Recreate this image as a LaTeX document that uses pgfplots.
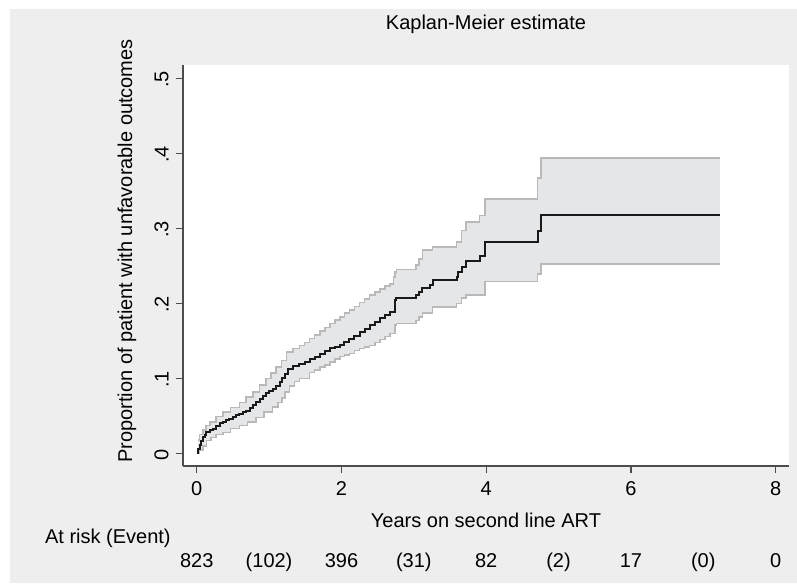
\documentclass[border=0pt]{standalone}
\usepackage{fontspec}
\setmainfont{Liberation Sans}
\usepackage{pgfplots}
\pgfplotsset{compat=1.18}
\usepackage{pgfplotstable}
\definecolor{bgout}{HTML}{EEEEEE}
\definecolor{bandfill}{HTML}{E5E6E8}
\definecolor{bandline}{HTML}{B9B9B9}
\definecolor{kmline}{HTML}{1A1A1A}
\definecolor{axcol}{HTML}{4D4D4D}

\pgfplotstableread{
x y
0 0
0.02 0.006
0.04 0.011
0.06 0.016
0.087 0.022
0.11 0.025
0.134 0.028
0.18 0.031
0.226 0.033
0.27 0.037
0.318 0.040
0.36 0.042
0.41 0.044
0.45 0.046
0.50 0.048
0.55 0.051
0.59 0.053
0.64 0.055
0.686 0.057
0.73 0.060
0.778 0.064
0.82 0.068
0.87 0.073
0.92 0.076
0.963 0.080
1.00 0.083
1.054 0.086
1.10 0.090
1.146 0.095
1.18 0.100
1.215 0.106
1.26 0.113
1.33 0.117
1.42 0.119
1.49 0.122
1.56 0.126
1.63 0.129
1.70 0.133
1.77 0.136
1.84 0.140
1.91 0.142
1.98 0.144
2.04 0.148
2.11 0.153
2.18 0.157
2.25 0.162
2.32 0.166
2.39 0.171
2.46 0.175
2.53 0.180
2.60 0.184
2.67 0.188
2.74 0.204
2.76 0.207
3.03 0.211
3.07 0.215
3.12 0.220
3.23 0.224
3.26 0.231
3.59 0.235
3.61 0.242
3.66 0.249
3.72 0.256
3.91 0.263
3.98 0.282
4.71 0.297
4.76 0.318
7.23 0.318
}\kmtab

\pgfplotstableread{
x y
0.02 0.018
0.04 0.025
0.087 0.031
0.13 0.037
0.18 0.042
0.27 0.049
0.36 0.055
0.47 0.061
0.59 0.068
0.68 0.075
0.78 0.082
0.87 0.091
0.96 0.100
1.03 0.107
1.10 0.115
1.17 0.124
1.24 0.135
1.33 0.140
1.42 0.144
1.49 0.148
1.56 0.153
1.63 0.158
1.70 0.163
1.77 0.168
1.84 0.173
1.91 0.178
1.98 0.182
2.04 0.187
2.11 0.191
2.18 0.196
2.25 0.201
2.32 0.206
2.39 0.211
2.46 0.215
2.53 0.219
2.60 0.223
2.67 0.226
2.72 0.235
2.74 0.242
2.76 0.245
3.03 0.251
3.07 0.259
3.12 0.271
3.26 0.275
3.59 0.282
3.66 0.297
3.72 0.308
3.91 0.317
3.98 0.339
4.71 0.367
4.76 0.394
7.23 0.394
}\uptab

\pgfplotstableread{
x y
0.02 0.000
0.04 0.004
0.087 0.010
0.134 0.017
0.20 0.021
0.27 0.025
0.36 0.028
0.47 0.033
0.59 0.037
0.70 0.042
0.82 0.048
0.93 0.055
1.05 0.062
1.12 0.068
1.18 0.074
1.22 0.082
1.28 0.090
1.35 0.096
1.42 0.100
1.56 0.108
1.63 0.111
1.70 0.115
1.77 0.118
1.84 0.122
1.91 0.126
1.98 0.129
2.04 0.131
2.11 0.133
2.18 0.137
2.25 0.140
2.32 0.142
2.39 0.144
2.46 0.148
2.53 0.152
2.60 0.156
2.67 0.160
2.74 0.171
2.76 0.173
3.03 0.177
3.07 0.182
3.12 0.187
3.26 0.195
3.59 0.200
3.66 0.207
3.72 0.211
3.98 0.229
4.71 0.239
4.76 0.252
7.23 0.252
}\lotab

\begin{document}
\begin{tikzpicture}[font=\fontsize{10}{12}\selectfont]
\useasboundingbox (0,0) rectangle (398.5pt,292pt);
\fill[white] (0,0) rectangle (398.5pt,292pt);
\fill[bgout] (5pt,0.5pt) rectangle (398.5pt,287.5pt);
\begin{axis}[
  at={(91.5pt,59pt)}, anchor=south west,
  scale only axis, width=303pt, height=200.5pt,
  xmin=-0.189, xmax=8.184, ymin=-0.0169, ymax=0.5177,
  axis x line*=bottom, axis y line*=left,
  axis background/.style={fill=white},
  axis line style={color=axcol, line width=0.7pt},
  tick style={color=axcol, line width=0.6pt},
  tick align=outside, major tick length=3.7pt,
  xtick={0,2,4,6,8},
  ytick={0,0.1,0.2,0.3,0.4,0.5},
  yticklabels={0,.1,.2,.3,.4,.5},
  /pgf/number format/assume math mode=true,
  ticklabel style={font=\fontsize{10}{12}\selectfont},
  yticklabel style={rotate=90, anchor=south, xshift=-0.6pt},
  xticklabel style={yshift=-0.5pt},
]
% confidence band (upper limit forward, lower limit backward)
\addplot[fill=bandfill, draw=none, forget plot] coordinates {
(0.02,0.018) (0.04,0.018) (0.04,0.025) (0.087,0.025) (0.087,0.031) (0.13,0.031) (0.13,0.037) (0.18,0.037) (0.18,0.042) (0.27,0.042) (0.27,0.049) (0.36,0.049) (0.36,0.055) (0.47,0.055) (0.47,0.061) (0.59,0.061) (0.59,0.068) (0.68,0.068) (0.68,0.075) (0.78,0.075) (0.78,0.082) (0.87,0.082) (0.87,0.091) (0.96,0.091) (0.96,0.100) (1.03,0.100) (1.03,0.107) (1.10,0.107) (1.10,0.115) (1.17,0.115) (1.17,0.124) (1.24,0.124) (1.24,0.135) (1.33,0.135) (1.33,0.140) (1.42,0.140) (1.42,0.144) (1.49,0.144) (1.49,0.148) (1.56,0.148) (1.56,0.153) (1.63,0.153) (1.63,0.158) (1.70,0.158) (1.70,0.163) (1.77,0.163) (1.77,0.168) (1.84,0.168) (1.84,0.173) (1.91,0.173) (1.91,0.178) (1.98,0.178) (1.98,0.182) (2.04,0.182) (2.04,0.187) (2.11,0.187) (2.11,0.191) (2.18,0.191) (2.18,0.196) (2.25,0.196) (2.25,0.201) (2.32,0.201) (2.32,0.206) (2.39,0.206) (2.39,0.211) (2.46,0.211) (2.46,0.215) (2.53,0.215) (2.53,0.219) (2.60,0.219) (2.60,0.223) (2.67,0.223) (2.67,0.226) (2.72,0.226) (2.72,0.235) (2.74,0.235) (2.74,0.242) (2.76,0.242) (2.76,0.245) (3.03,0.245) (3.03,0.251) (3.07,0.251) (3.07,0.259) (3.12,0.259) (3.12,0.271) (3.26,0.271) (3.26,0.275) (3.59,0.275) (3.59,0.282) (3.66,0.282) (3.66,0.297) (3.72,0.297) (3.72,0.308) (3.91,0.308) (3.91,0.317) (3.98,0.317) (3.98,0.339) (4.71,0.339) (4.71,0.367) (4.76,0.367) (4.76,0.394) (7.23,0.394)
(7.23,0.252) (4.76,0.252) (4.76,0.239) (4.71,0.239) (4.71,0.229) (3.98,0.229) (3.98,0.211) (3.72,0.211) (3.72,0.207) (3.66,0.207) (3.66,0.200) (3.59,0.200) (3.59,0.195) (3.26,0.195) (3.26,0.187) (3.12,0.187) (3.12,0.182) (3.07,0.182) (3.07,0.177) (3.03,0.177) (3.03,0.173) (2.76,0.173) (2.76,0.171) (2.74,0.171) (2.74,0.160) (2.67,0.160) (2.67,0.156) (2.60,0.156) (2.60,0.152) (2.53,0.152) (2.53,0.148) (2.46,0.148) (2.46,0.144) (2.39,0.144) (2.39,0.142) (2.32,0.142) (2.32,0.140) (2.25,0.140) (2.25,0.137) (2.18,0.137) (2.18,0.133) (2.11,0.133) (2.11,0.131) (2.04,0.131) (2.04,0.129) (1.98,0.129) (1.98,0.126) (1.91,0.126) (1.91,0.122) (1.84,0.122) (1.84,0.118) (1.77,0.118) (1.77,0.115) (1.70,0.115) (1.70,0.111) (1.63,0.111) (1.63,0.108) (1.56,0.108) (1.56,0.100) (1.42,0.100) (1.42,0.096) (1.35,0.096) (1.35,0.090) (1.28,0.090) (1.28,0.082) (1.22,0.082) (1.22,0.074) (1.18,0.074) (1.18,0.068) (1.12,0.068) (1.12,0.062) (1.05,0.062) (1.05,0.055) (0.93,0.055) (0.93,0.048) (0.82,0.048) (0.82,0.042) (0.70,0.042) (0.70,0.037) (0.59,0.037) (0.59,0.033) (0.47,0.033) (0.47,0.028) (0.36,0.028) (0.36,0.025) (0.27,0.025) (0.27,0.021) (0.20,0.021) (0.20,0.017) (0.134,0.017) (0.134,0.010) (0.087,0.010) (0.087,0.004) (0.04,0.004) (0.04,0.000) (0.02,0.000)
};
\addplot[bandline, line width=0.8pt, const plot, forget plot] table {\uptab};
\addplot[bandline, line width=0.8pt, const plot, forget plot] table {\lotab};
\addplot[kmline, line width=1pt, const plot, forget plot] table {\kmtab};
\end{axis}
\node[anchor=base] at (243pt,277pt) {Kaplan-Meier estimate};
\node[anchor=base, rotate=90] at (66pt,166.5pt) {Proportion of patient with unfavorable outcomes};
\node[anchor=base] at (243pt,28.5pt) {Years on second line ART};
\node[anchor=base west] at (19pt,20.5pt) {At risk (Event)};
\foreach \lab [count=\i from 0] in {823,(102),396,(31),82,(2),17,(0),0}
  \node[anchor=base] at ({98.35pt+36.185pt*\i},8.5pt) {\lab};
\end{tikzpicture}
\end{document}
